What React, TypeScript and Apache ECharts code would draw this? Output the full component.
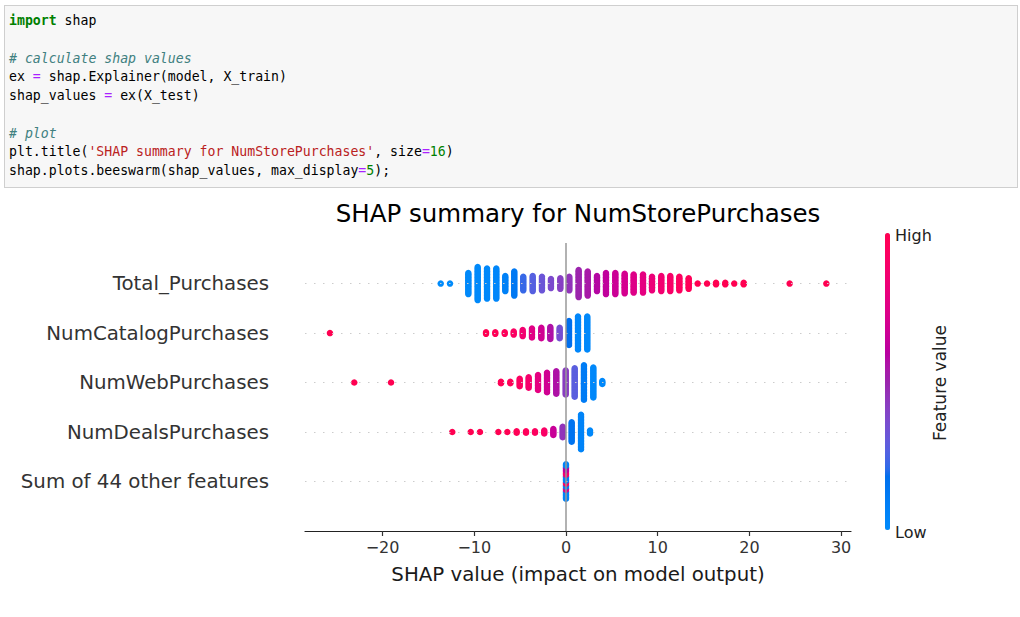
import React, { useEffect, useRef } from 'react';
import * as echarts from 'echarts';

// ---------- data ----------
const features = [
  'Sum of 44 other features',
  'NumDealsPurchases',
  'NumWebPurchases',
  'NumCatalogPurchases',
  'Total_Purchases',
];
const xTicks = [-20, -10, 0, 10, 20, 30];
const title = 'SHAP summary for NumStorePurchases';
const xName = 'SHAP value (impact on model output)';

// clusters: [SHAP value, number of samples, feature value (0 = low, 1 = high)]
const totalPurchases: [number, number, number][] = [
  [-13.66, 1, 0.0], [-12.65, 1, 0.0], [-10.65, 15, 0.01], [-9.63, 23, 0.01],
  [-8.61, 21, 0.02], [-7.6, 21, 0.03], [-6.62, 11, 0.07], [-5.64, 17, 0.12],
  [-4.66, 10, 0.22], [-3.63, 11, 0.27], [-2.62, 10, 0.32], [-1.64, 7, 0.37],
  [-0.62, 8, 0.41], [0.36, 10, 0.45], [1.38, 19, 0.5], [2.37, 17, 0.54],
  [3.38, 11, 0.58], [4.36, 15, 0.62], [5.38, 15, 0.66], [6.4, 14, 0.7],
  [7.38, 13, 0.74], [8.4, 13, 0.78], [9.38, 10, 0.82], [10.39, 11, 0.86],
  [11.37, 11, 0.9], [12.36, 10, 0.94], [13.38, 8, 0.97], [14.36, 1, 1],
  [15.38, 1, 1], [16.36, 2, 1], [17.37, 2, 1], [18.35, 1, 1], [19.38, 2, 1],
  [24.39, 1, 1], [28.39, 1, 1],
];
const numCatalogPurchases: [number, number, number][] = [
  [-25.74, 1, 1], [-8.72, 2, 0.99], [-7.71, 2, 0.98], [-6.68, 2, 0.96],
  [-5.7, 3, 0.93], [-4.72, 5, 0.86], [-3.71, 7, 0.76], [-2.69, 8, 0.68],
  [-1.71, 9, 0.56], [-0.69, 8, 0.35], [0.33, 17, 0.18], [1.31, 23, 0.03],
  [2.32, 23, 0.02],
];
const numWebPurchases: [number, number, number][] = [
  [-23.09, 1, 1], [-19.08, 1, 1], [-7.09, 2, 0.98], [-6.07, 2, 0.97],
  [-5.05, 6, 0.93], [-4.07, 8, 0.88], [-3.05, 11, 0.78], [-2.07, 14, 0.68],
  [-1.06, 16, 0.56], [-0.03, 17, 0.42], [0.95, 20, 0.28], [1.96, 24, 0.1],
  [2.98, 21, 0.02], [3.96, 3, 0.02],
];
const numDealsPurchases: [number, number, number][] = [
  [-12.4, 1, 1], [-10.39, 1, 1], [-9.38, 1, 1], [-7.38, 1, 1], [-6.4, 1, 0.99],
  [-5.38, 2, 0.98], [-4.36, 2, 0.96], [-3.38, 2, 0.94], [-2.37, 3, 0.91],
  [-1.38, 5, 0.65], [-0.36, 8, 0.45], [0.62, 14, 0.15], [1.64, 24, 0.05],
  [2.62, 3, 0.02],
];
// "Sum of 44 other features": all samples at ~0, feature values bottom -> top
const sumOtherShap = 0;
const sumOtherValues = [
  0.05, 0.05, 0.05, 0.05, 0.05, 0.05, 0.75, 0.75, 0.1, 0.1, 0.92, 0.92,
  0.1, 0.1, 0.1, 0.1, 0.85, 0.85, 0.85, 0.6, 0.6, 0.6, 0.05, 0.05,
];

// ---------- helpers ----------
const STEP = 1.5 / 49.5; // stacking offset between samples in a bin, row units

function lch2hex(L: number, C: number, h: number): string {
  const a = C * Math.cos(h);
  const b = C * Math.sin(h);
  const fy = (L + 16) / 116;
  const fx = fy + a / 500;
  const fz = fy - b / 200;
  const finv = (t: number) => (t * t * t > 0.008856 ? t * t * t : (t - 16 / 116) / 7.787);
  const X = 0.95047 * finv(fx);
  const Y = finv(fy);
  const Z = 1.08883 * finv(fz);
  const lin = [
    3.2406 * X - 1.5372 * Y - 0.4986 * Z,
    -0.9689 * X + 1.8758 * Y + 0.0415 * Z,
    0.0557 * X - 0.204 * Y + 1.057 * Z,
  ];
  return (
    '#' +
    lin
      .map((v) => {
        let g = v > 0.0031308 ? 1.055 * Math.pow(v, 1 / 2.4) - 0.055 : 12.92 * v;
        g = Math.min(1, Math.max(0, g));
        return Math.round(g * 255).toString(16).padStart(2, '0');
      })
      .join('')
  );
}

function redBlue(): string[] {
  const n = 100;
  const out: string[] = [];
  const h0 = 4.6588;
  const h1 = 0.35470565 + 2 * Math.PI;
  for (let i = 0; i < n; i++) {
    const l = i < 50 ? 54 + (40 - 54) * (i / 49) : 40 + (54 - 40) * ((i - 50) / 49);
    const c = 70 + (90 - 70) * (i / (n - 1));
    const h = h0 + (h1 - h0) * (i / (n - 1));
    out.push(lch2hex(l, c, h));
  }
  return out;
}

function stack(row: number, clusters: [number, number, number][]) {
  const pts: number[][] = [];
  clusters.forEach(([x, n, v]) => {
    for (let k = 0; k < n; k++) pts.push([x, row + (k - (n - 1) / 2) * STEP, v]);
  });
  return pts;
}

function stackValues(row: number, x: number, vals: number[]) {
  const n = vals.length;
  return vals.map((v, k) => [x, row + (k - (n - 1) / 2) * STEP, v]);
}

const FONT = 'DejaVu Sans';

export default function App() {
  const ref = useRef<HTMLDivElement>(null);

  useEffect(() => {
    if (!ref.current) return;
    const chart = echarts.init(ref.current, null, { renderer: 'svg' });
    const points = [
      ...stackValues(0, sumOtherShap, sumOtherValues),
      ...stack(1, numDealsPurchases),
      ...stack(2, numWebPurchases),
      ...stack(3, numCatalogPurchases),
      ...stack(4, totalPurchases),
    ];
    const cmap = redBlue();
    const fmt = (v: number) => (v < 0 ? '\u2212' + Math.abs(v) : String(v));

    chart.setOption({
      animation: false,
      backgroundColor: '#ffffff',
      textStyle: { fontFamily: FONT },
      title: {
        text: title,
        left: 578,
        top: 201,
        textAlign: 'center',
        padding: 0,
        textStyle: { fontSize: 24.5, fontWeight: 'normal', color: '#000', fontFamily: FONT },
      },
      grid: { left: 305, top: 243, width: 546, height: 288, containLabel: false },
      xAxis: {
        type: 'value',
        min: -28.46,
        max: 31.08,
        name: xName,
        nameLocation: 'middle',
        nameGap: 33,
        nameTextStyle: { fontSize: 19.8, color: '#1a1a1a', fontFamily: FONT },
        axisLine: { onZero: false, lineStyle: { color: '#222', width: 1.2 } },
        axisTick: { show: true, length: 5, customValues: xTicks, lineStyle: { color: '#333', width: 1.2 } },
        axisLabel: { customValues: xTicks, formatter: fmt, fontSize: 16, color: '#333', margin: 8, fontFamily: FONT },
        splitLine: { show: false },
      },
      yAxis: {
        type: 'value',
        min: -1,
        max: 4.82,
        axisLine: { show: false, onZero: false },
        axisTick: { show: false },
        splitLine: { show: false },
        axisLabel: {
          customValues: [0, 1, 2, 3, 4],
          formatter: (v: number) => features[Math.round(v)] ?? '',
          fontSize: 19.8,
          color: '#333',
          margin: 36,
          fontFamily: FONT,
        },
      },
      visualMap: {
        type: 'continuous',
        min: 0,
        max: 1,
        dimension: 2,
        seriesIndex: 1,
        inRange: { color: cmap },
        show: true,
        calculable: false,
        hoverLink: false,
        left: 885,
        top: 233,
        itemWidth: 5,
        itemHeight: 297,
        padding: 0,
      },
      graphic: [
        { type: 'text', x: 895, y: 235, style: { text: 'High', fontSize: 16, fill: '#222', fontFamily: FONT, verticalAlign: 'middle', align: 'left' } },
        { type: 'text', x: 895, y: 532, style: { text: 'Low', fontSize: 16, fill: '#222', fontFamily: FONT, verticalAlign: 'middle', align: 'left' } },
        { type: 'text', x: 940, y: 383, rotation: Math.PI / 2, style: { text: 'Feature value', fontSize: 17, fill: '#222', fontFamily: FONT, verticalAlign: 'middle', align: 'center' } },
      ],
      series: [
        {
          type: 'scatter',
          z: 1,
          data: [],
          silent: true,
          markLine: {
            silent: true,
            symbol: 'none',
            label: { show: false },
            animation: false,
            data: [
              ...features.map((_, i) => ({ yAxis: i, lineStyle: { color: '#cccccc', width: 1, type: [1.5, 7.5] } })),
              { xAxis: 0, lineStyle: { color: '#999999', width: 1.5, type: 'solid' } },
            ],
          },
        },
        {
          type: 'scatter',
          z: 2,
          symbol: 'circle',
          symbolSize: 6.5,
          itemStyle: { opacity: 1, borderWidth: 0 },
          data: points,
        },
      ],
    });
    return () => chart.dispose();
  }, []);

  const mono = { fontFamily: "'DejaVu Sans Mono', 'Liberation Mono', monospace" };
  const kw = { color: '#008000', fontWeight: 'bold' as const };
  const cm = { color: '#408080', fontStyle: 'italic' as const };
  const op = { color: '#aa22ff' };
  const st = { color: '#ba2121' };
  const nm = { color: '#008000' };

  return (
    <div style={{ position: 'absolute', left: 0, top: 0, width: 1020, height: 617, background: '#fff', overflow: 'hidden' }}>
      <div ref={ref} style={{ position: 'absolute', left: 0, top: 0, width: 1020, height: 617 }} />
      <div
        style={{
          position: 'absolute',
          left: 4,
          top: 5,
          width: 1014,
          height: 183,
          boxSizing: 'border-box',
          background: '#f7f7f7',
          border: '1px solid #cfcfcf',
        }}
      />
      <pre
        style={{
          ...mono,
          position: 'absolute',
          left: 9,
          top: 12,
          margin: 0,
          fontSize: 13.2,
          lineHeight: '18.75px',
          color: '#000',
          whiteSpace: 'pre',
        }}
      >
        <span style={kw}>import</span> shap{'\n'}
        {'\n'}
        <span style={cm}># calculate shap values</span>{'\n'}
        ex <span style={op}>=</span> shap.Explainer(model, X_train){'\n'}
        shap_values <span style={op}>=</span> ex(X_test){'\n'}
        {'\n'}
        <span style={cm}># plot</span>{'\n'}
        plt.title(<span style={st}>'SHAP summary for NumStorePurchases'</span>, size<span style={op}>=</span><span style={nm}>16</span>){'\n'}
        shap.plots.beeswarm(shap_values, max_display<span style={op}>=</span><span style={nm}>5</span>);
      </pre>
    </div>
  );
}
